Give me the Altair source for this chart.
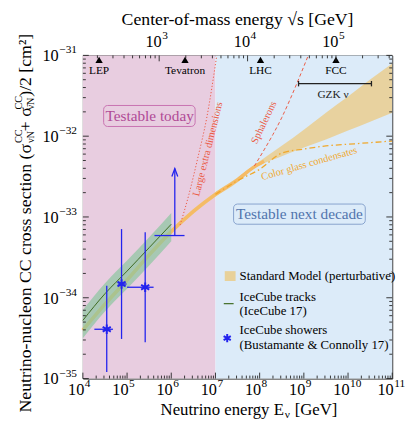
import altair as alt
import pandas as pd

# ---------------- data (log10 E [GeV], log10 sigma [cm^2]) ----------------
sm_logE = [4.0, 4.5, 5.0, 5.5, 6.0, 6.5, 7.0, 7.5, 7.85, 8.5, 9.0, 9.5, 10.0, 10.5, 11.0]
sm_lo = [-34.43, -34.11, -33.81, -33.50, -33.21, -32.96, -32.75, -32.57, -32.41, -32.25, -32.14, -32.04, -31.93, -31.82, -31.71]
sm_hi = [-34.37, -34.05, -33.75, -33.44, -33.15, -32.90, -32.69, -32.51, -32.37, -32.12, -31.92, -31.71, -31.51, -31.30, -31.10]
sm_line_logE = [4.0, 4.5, 5.0, 5.5, 6.0, 6.5, 7.0, 7.5, 7.85, 8.1]
sm_line = [-34.40, -34.08, -33.78, -33.47, -33.18, -32.93, -32.72, -32.54, -32.39, -32.31]

ic_logE = [4.0, 4.5, 5.0, 5.5, 6.0]
ic_mid = [-34.28, -33.95, -33.67, -33.38, -33.09]
ic_lo = [-34.50, -34.17, -33.89, -33.60, -33.30]
ic_hi = [-34.15, -33.82, -33.54, -33.25, -32.95]

cgc_logE = [7.0, 7.5, 8.0, 8.5, 9.0, 9.5, 10.0, 10.5, 11.0]
cgc = [-32.72, -32.55, -32.41, -32.21, -32.16, -32.12, -32.10, -32.08, -32.06]

sph_logE = [7.88, 8.1, 8.3, 8.5, 8.7, 8.9, 9.1]
sph = [-32.37, -32.17, -31.98, -31.77, -31.53, -31.27, -31.0]

led_logE = [6.2, 6.4, 6.6, 6.8, 7.03]
led = [-33.10, -32.72, -32.27, -31.78, -31.0]

sh_logE = [4.54, 4.875, 5.41]
sh_S = [-34.39, -33.83, -33.87]
sh_Elo = [4.26, 4.79, 5.00]
sh_Ehi = [4.68, 4.99, 5.60]
sh_Slo = [-34.92, -34.51, -34.55]
sh_Shi = [-33.85, -33.15, -33.19]

ul_logE = 6.08
ul_Elo, ul_Ehi = 5.62, 6.30
ul_S, ul_top = -33.23, -32.40

gzk_Elo, gzk_Ehi, gzk_S = 8.88, 10.53, -31.35

colliders = ["LEP", "Tevatron", "LHC", "FCC"]
coll_sqrts = [209, 1960, 14000, 100000]

x_exps = [4, 5, 6, 7, 8, 9, 10, 11]
y_exps = [-35, -34, -33, -32, -31]
top_exps = [3, 4, 5]

# ---------------- styling ----------------
SERIF = "Liberation Serif"
W, H = 314, 328
PINK, BLUE = "#e8cde0", "#dcebf9"
TAN, ORANGE = "#e8d19a", "#f5bb66"
GFILL, GLINE = "#8cc6a0", "#3e6a21"
RED, CGCC = "#eb5a44", "#f0a82c"
BLU = "#2323ee"

def expo(k):
    return str(k).replace("-", "\u2212")

xs = alt.Scale(type="log", domain=[1e4, 1e11], nice=False)
ys = alt.Scale(type="log", domain=[1e-35, 1e-31], nice=False)
def X(f="E"):
    return alt.X(f"{f}:Q", scale=xs, axis=None)
def Y(f="S"):
    return alt.Y(f"{f}:Q", scale=ys, axis=None)

one = pd.DataFrame({"a": [0]})
layers = []

def txt(t, x, y, **kw):
    return alt.Chart(one).mark_text(text=t, font=SERIF, color="black", **kw).encode(x=alt.value(x), y=alt.value(y))

# background zones
for e0, e1, col in [(1e4, 1e7, PINK), (1e7, 1e11, BLUE)]:
    layers.append(alt.Chart(pd.DataFrame({"E0": [e0], "E1": [e1], "S0": [1e-35], "S1": [1e-31]}))
                  .mark_rect(color=col).encode(x=X("E0"), x2="E1:Q", y=Y("S0"), y2="S1:Q"))

# annotation boxes
for e0, e1, s0, s1, bc, tc, te, ts, t in [
        (4.47, 6.54, -31.88, -31.62, "#c873b1", "#b04a96", 5.51, -31.756, "Testable today"),
        (7.41, 10.39, -33.09, -32.84, "#87a3cd", "#5174ad", 8.90, -32.965, "Testable next decade")]:
    layers.append(alt.Chart(pd.DataFrame({"E0": [10**e0], "E1": [10**e1], "S0": [10**s0], "S1": [10**s1]}))
                  .mark_rect(cornerRadius=4, fillOpacity=0, stroke=bc, strokeWidth=1)
                  .encode(x=X("E0"), x2="E1:Q", y=Y("S0"), y2="S1:Q"))
    layers.append(alt.Chart(pd.DataFrame({"E": [10**te], "S": [10**ts], "t": [t]}))
                  .mark_text(font=SERIF, fontSize=15.5, baseline="middle", color=tc)
                  .encode(x=X(), y=Y(), text="t:N"))

# Standard model band + central thin line
sm = pd.DataFrame({"E": [10**v for v in sm_logE], "lo": [10**v for v in sm_lo], "hi": [10**v for v in sm_hi]})
layers.append(alt.Chart(sm).mark_area(color=TAN, opacity=0.95, clip=True, interpolate="monotone").encode(
    x=X(), y=Y("lo"), y2="hi:Q"))
sml = pd.DataFrame({"E": [10**v for v in sm_line_logE], "S": [10**v for v in sm_line]})
layers.append(alt.Chart(sml).mark_line(color=ORANGE, strokeWidth=3.5, opacity=1, interpolate="monotone").encode(
    x=X(), y=Y()))

# IceCube tracks
ic = pd.DataFrame({"E": [10**v for v in ic_logE], "S": [10**v for v in ic_mid],
                   "lo": [10**v for v in ic_lo], "hi": [10**v for v in ic_hi]})
layers.append(alt.Chart(ic).mark_area(color=GFILL, opacity=0.7, interpolate="monotone").encode(
    x=X(), y=Y("lo"), y2="hi:Q"))
layers.append(alt.Chart(ic).mark_line(color=GLINE, strokeWidth=1, interpolate="monotone").encode(x=X(), y=Y()))

# exotic models
cg = pd.DataFrame({"E": [10**v for v in cgc_logE], "S": [10**v for v in cgc]})
layers.append(alt.Chart(cg).mark_line(color=CGCC, strokeWidth=1.3, strokeDash=[6, 3, 1.5, 3],
                                      interpolate="monotone", clip=True).encode(x=X(), y=Y()))
sp = pd.DataFrame({"E": [10**v for v in sph_logE], "S": [10**v for v in sph]})
layers.append(alt.Chart(sp).mark_line(color=RED, strokeWidth=1, strokeDash=[3.5, 2.5],
                                      interpolate="monotone", clip=True).encode(x=X(), y=Y()))
ld = pd.DataFrame({"E": [10**v for v in led_logE], "S": [10**v for v in led]})
layers.append(alt.Chart(ld).mark_line(color=RED, strokeWidth=1, strokeDash=[1.2, 2],
                                      interpolate="monotone", clip=True).encode(x=X(), y=Y()))

# rotated model labels
for e, s, t, a, c in [(6.83, -32.16, "Large extra dimensions", 284, RED),
                      (8.10, -31.83, "Sphalerons", 295.5, RED),
                      (9.12, -32.34, "Color glass condensates", 344, CGCC)]:
    layers.append(alt.Chart(pd.DataFrame({"E": [10**e], "S": [10**s], "t": [t]}))
                  .mark_text(font=SERIF, fontSize=10.5, angle=a, color=c).encode(x=X(), y=Y(), text="t:N"))

# IceCube showers
sh = pd.DataFrame({"E": [10**v for v in sh_logE], "S": [10**v for v in sh_S],
                   "Elo": [10**v for v in sh_Elo], "Ehi": [10**v for v in sh_Ehi],
                   "Slo": [10**v for v in sh_Slo], "Shi": [10**v for v in sh_Shi]})
layers.append(alt.Chart(sh).mark_rule(color=BLU, strokeWidth=1.3).encode(x=X(), y=Y("Slo"), y2="Shi:Q"))
layers.append(alt.Chart(sh).mark_rule(color=BLU, strokeWidth=1.3).encode(x=X("Elo"), x2="Ehi:Q", y=Y()))
STAR = "M0,-1L0,1M-0.87,-0.5L0.87,0.5M-0.87,0.5L0.87,-0.5"
layers.append(alt.Chart(sh).mark_point(shape=STAR, filled=False, color=BLU, strokeWidth=2, size=90, opacity=1).encode(
    x=X(), y=Y()))

# upper limit
ul = pd.DataFrame({"E": [10**ul_logE], "Elo": [10**ul_Elo], "Ehi": [10**ul_Ehi],
                   "S": [10**ul_S], "St": [10**ul_top]})
layers.append(alt.Chart(ul).mark_rule(color=BLU, strokeWidth=1.3).encode(x=X("Elo"), x2="Ehi:Q", y=Y()))
layers.append(alt.Chart(ul).mark_rule(color=BLU, strokeWidth=1.3).encode(x=X(), y=Y(), y2="St:Q"))
layers.append(alt.Chart(ul).mark_point(shape="M-1,2.7L0,0L1,2.7", filled=False, color=BLU, strokeWidth=1.3,
                                       size=36, opacity=1).encode(x=X(), y=Y("St")))

# GZK range
gz = pd.DataFrame({"E0": [10**gzk_Elo], "E1": [10**gzk_Ehi], "S": [10**gzk_S]})
layers.append(alt.Chart(gz).mark_rule(color="#222", strokeWidth=1.3).encode(x=X("E0"), x2="E1:Q", y=Y()))
gzc = pd.DataFrame({"E": [10**gzk_Elo, 10**gzk_Ehi], "S": [10**gzk_S] * 2})
layers.append(alt.Chart(gzc).mark_point(shape="M0,-1L0,1", filled=False, color="#222", strokeWidth=1.3,
                                        size=30, opacity=1).encode(x=X(), y=Y()))
layers.append(alt.Chart(pd.DataFrame({"E": [10**9.66], "S": [10**-31.49], "t": ["GZK \u03bd"]})).mark_text(
    font=SERIF, fontSize=11.5, color="#222").encode(x=X(), y=Y(), text="t:N"))

# colliders (positioned through sqrt(s) -> E)
cdf = pd.DataFrame({"name": colliders, "rs": coll_sqrts})
cbase = alt.Chart(cdf).transform_calculate(E="datum.rs*datum.rs/1.8765")
layers.append(cbase.mark_point(shape="triangle-up", filled=True, color="black", size=55, opacity=1).encode(
    x=X(), y=alt.value(4.5)))
layers.append(cbase.mark_text(font=SERIF, fontSize=11.5, color="black").encode(
    x=X(), y=alt.value(15.5), text="name:N"))

# ---------------- inward ticks ----------------
def tdf(vals, f):
    return pd.DataFrame({f: vals})
xmaj = [10.0**k for k in x_exps]
xmin = [m * 10.0**k for k in x_exps[:-1] for m in range(2, 10)]
ymaj = [10.0**k for k in y_exps]
ymin = [m * 10.0**k for k in y_exps[:-1] for m in range(2, 10)]
rs_lo, rs_hi = (1.8765e4) ** 0.5, (1.8765e11) ** 0.5
smaj = [10.0**k for k in top_exps]
smin = [m * 10.0**k for k in [2, 3, 4, 5] for m in range(2, 10) if rs_lo < m * 10.0**k < rs_hi]
TK = dict(color="#222", strokeWidth=0.9)
for vals, ln in [(xmaj, 6), (xmin, 3)]:
    layers.append(alt.Chart(tdf(vals, "E")).mark_rule(**TK).encode(x=X(), y=alt.value(H), y2=alt.value(H - ln)))
for vals, ln in [(smaj, 6), (smin, 3)]:
    layers.append(alt.Chart(tdf(vals, "rs")).transform_calculate(E="datum.rs*datum.rs/1.8765").mark_rule(**TK).encode(
        x=X(), y=alt.value(0), y2=alt.value(ln)))
for vals, ln in [(ymaj, 6), (ymin, 3)]:
    layers.append(alt.Chart(tdf(vals, "S")).mark_rule(**TK).encode(y=Y(), x=alt.value(0), x2=alt.value(ln)))
    layers.append(alt.Chart(tdf(vals, "S")).mark_rule(**TK).encode(y=Y(), x=alt.value(W), x2=alt.value(W - ln)))

# ---------------- tick labels: "10" + raised exponent ----------------
BF, EF = 16.5, 11.5
tl = pd.DataFrame({"rs": smaj, "t": [expo(k) for k in top_exps]})
tb = alt.Chart(tl).transform_calculate(E="datum.rs*datum.rs/1.8765")
layers.append(tb.mark_text(text="10", font=SERIF, fontSize=BF, color="black", baseline="middle", align="right", dx=2.5)
              .encode(x=X(), y=alt.value(-14)))
layers.append(tb.mark_text(font=SERIF, fontSize=EF, color="black", baseline="middle", align="left", dx=3)
              .encode(x=X(), y=alt.value(-20), text="t:N"))
bl = pd.DataFrame({"E": xmaj, "t": [expo(k) for k in x_exps]})
layers.append(alt.Chart(bl).mark_text(text="10", font=SERIF, fontSize=BF, color="black", baseline="middle",
                                      align="right", dx=1.5).encode(x=X(), y=alt.value(H + 12)))
layers.append(alt.Chart(bl).mark_text(font=SERIF, fontSize=EF, color="black", baseline="middle",
                                      align="left", dx=2).encode(x=X(), y=alt.value(H + 6), text="t:N"))
ll = pd.DataFrame({"S": ymaj, "t": [expo(k) for k in y_exps]})
layers.append(alt.Chart(ll).mark_text(font=SERIF, fontSize=EF, color="black", baseline="middle", align="right",
                                      dy=-5).encode(y=Y(), x=alt.value(-6), text="t:N"))
layers.append(alt.Chart(ll).mark_text(text="10", font=SERIF, fontSize=BF, color="black", baseline="middle",
                                      align="right", dy=1).encode(y=Y(), x=alt.value(-24.5)))

# ---------------- titles ----------------
TF = 18
layers.append(txt("Center-of-mass energy \u221as  [GeV]", W / 2, -36, fontSize=TF, baseline="middle"))
# x title
XF = 17
layers.append(txt("Neutrino energy E", 204, 365, fontSize=XF, align="right", baseline="alphabetic"))
layers.append(txt("\u03bd", 205, 368, fontSize=11.5, align="left", baseline="alphabetic"))
layers.append(txt("[GeV]", 215, 365, fontSize=XF, align="left", baseline="alphabetic"))
# y title (rotated)
YT = -58
layers.append(txt("Neutrino-nucleon CC cross section (\u03c3", YT, 90, fontSize=TF, angle=270, align="right", baseline="middle"))
layers.append(txt("CC", YT - 7, 89, fontSize=10.5, angle=270, align="left", baseline="middle"))
layers.append(txt("\u03bdN", YT + 5, 89, fontSize=10.5, angle=270, align="left", baseline="middle"))
layers.append(txt("+ \u03c3", YT, 77, fontSize=TF, angle=270, align="left", baseline="middle"))
layers.append(txt("CC", YT - 7, 55, fontSize=10.5, angle=270, align="left", baseline="middle"))
layers.append(txt("\u03bd\u0304N", YT + 5, 55, fontSize=10.5, angle=270, align="left", baseline="middle"))
layers.append(txt(")/2  [cm\u00b2]", YT, 42, fontSize=TF, angle=270, align="left", baseline="middle"))

# ---------------- legend ----------------
layers.append(alt.Chart(one).mark_rect(color=TAN).encode(
    x=alt.value(144), x2=alt.value(155), y=alt.value(219), y2=alt.value(229)))
layers.append(alt.Chart(one).mark_rule(color=GLINE, strokeWidth=1.2).encode(
    x=alt.value(143), x2=alt.value(153), y=alt.value(252)))
layers.append(alt.Chart(one).mark_point(shape=STAR, filled=False, color=BLU, strokeWidth=2, size=70, opacity=1).encode(
    x=alt.value(146.5), y=alt.value(287)))
LEGX = 159
for t, yy in [("Standard Model (perturbative)", 224), ("IceCube tracks", 245), ("(IceCube 17)", 260),
              ("IceCube showers", 279), ("(Bustamante & Connolly 17)", 294)]:
    layers.append(txt(t, LEGX, yy, fontSize=13, align="left", baseline="middle"))

chart = alt.layer(*layers).properties(
    width=W, height=H,
    autosize=alt.AutoSizeParams(type="none"),
    padding={"left": 76, "top": 45, "right": 16, "bottom": 40},
).configure_view(stroke="#1a1a1a", strokeWidth=1)

chart.save("out.html", embed_options={"renderer": "svg", "actions": False})
